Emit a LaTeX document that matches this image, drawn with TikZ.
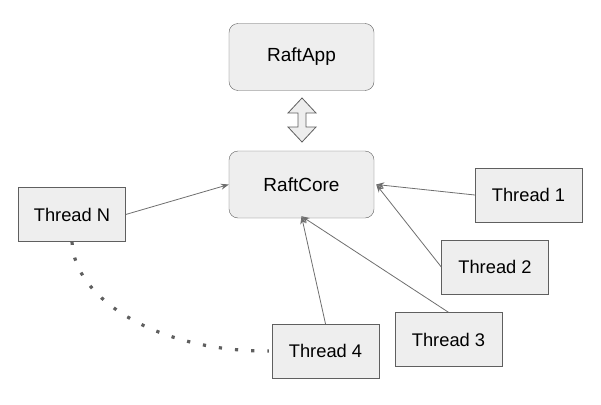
\documentclass[tikz,border=0pt]{standalone}
\usepackage{fontspec}
\setmainfont{Liberation Sans}
\usetikzlibrary{arrows.meta}
\definecolor{boxfill}{HTML}{EEEEEE}
\definecolor{boxline}{HTML}{5F5F5F}
\definecolor{wire}{HTML}{6E6E6E}
\tikzstyle{module} = [rectangle, rounded corners=9pt, text centered, draw=boxline, fill=boxfill, minimum width=145pt, minimum height=67pt, font=\fontsize{19}{21}\selectfont]
\tikzstyle{worker} = [rectangle, text centered, draw=boxline, fill=boxfill, minimum width=107pt, minimum height=54pt, font=\fontsize{18.3}{20}\selectfont]
\tikzstyle{arrow} = [wire, line width=0.8pt, -{Stealth[length=8pt, width=6pt]}]
\tikzstyle{peer} = [boxline, line width=3.2pt, dash pattern=on 3.2pt off 13pt]

\begin{document}
\begin{tikzpicture}[x=1pt, y=-1pt]
\useasboundingbox (0,0) rectangle (601,404);

\node (app) [module] at (301.5,57) {RaftApp};
\node (core) [module] at (301.5,184.5) {RaftCore};
\node (tn) [worker] at (72,214.5) {Thread N};
\node (t1) [worker] at (528.5,195) {Thread 1};
\node (t2) [worker] at (495,267) {Thread 2};
\node (t3) [worker] at (448.5,339.5) {Thread 3};
\node (t4) [worker] at (325.5,351) {Thread 4};

% app <-> core
\coordinate (mid) at (302,120);
\draw [boxline, fill=boxfill, line width=0.8pt]
  ([yshift=22]mid) -- ++(14,15) -- ++(-10,0) -- ++(0,14) -- ++(10,0)
  -- ++(-14,15) -- ++(-14,-15) -- ++(10,0) -- ++(0,-14) -- ++(-10,0) -- cycle;

\draw [arrow] (tn.east) -- (core.west);
\draw [arrow] (t1.west) -- ([xshift=2]core.east);
\draw [arrow] (t2.west) -- ([xshift=2]core.east);
\draw [arrow] (t3.north) -- ([yshift=2]core.south);
\draw [arrow] (t4.north) -- ([yshift=2]core.south);

\draw [peer] (tn.south) .. controls (74,300) and (160,352) .. ([xshift=-3]t4.west);

\end{tikzpicture}
\end{document}
